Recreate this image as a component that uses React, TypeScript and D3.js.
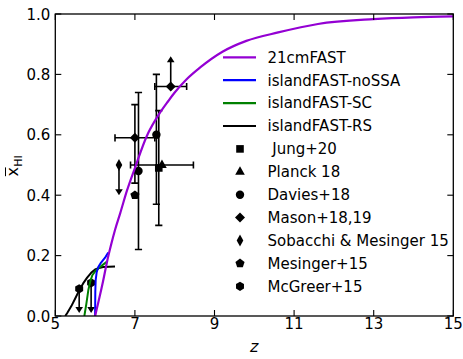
import React from 'react';
import * as d3 from 'd3';

const W = 463, H = 359;
const L = 55.3, R = 453.3, T = 14, B = 316;

const zTicks = [5, 7, 9, 11, 13, 15];
const xTicks = [0, 0.2, 0.4, 0.6, 0.8, 1.0];

// model curves
const fastZ = [6.0, 6.05, 6.1, 6.2, 6.3, 6.4, 6.5, 6.63, 6.8, 7.0, 7.3, 7.63, 7.84, 8.0, 8.3, 8.64, 9.2, 9.8, 10.6, 11.6, 13.0, 14.0, 15.0];
const fastX = [0.0, 0.028, 0.056, 0.115, 0.18, 0.235, 0.285, 0.34, 0.415, 0.49, 0.596, 0.673, 0.712, 0.74, 0.784, 0.823, 0.875, 0.911, 0.939, 0.967, 0.983, 0.989, 0.992];
const noSSAZ = [6.0, 6.005, 6.015, 6.04, 6.08, 6.15, 6.25, 6.33];
const noSSAX = [0.0, 0.08, 0.12, 0.145, 0.162, 0.177, 0.193, 0.21];
const scZ = [5.73, 5.78, 5.83, 5.88, 5.93, 6.0, 6.1, 6.2, 6.3];
const scX = [0.0, 0.04, 0.086, 0.115, 0.135, 0.148, 0.16, 0.17, 0.18];
const rsZ = [5.25, 5.3, 5.4, 5.5, 5.6, 5.7, 5.8, 5.9, 6.0, 6.1, 6.2, 6.35, 6.5];
const rsX = [0.0, 0.01, 0.032, 0.058, 0.085, 0.108, 0.127, 0.143, 0.154, 0.159, 0.162, 0.163, 0.164];

// observations
const jungZ = [7.6], jungX = [0.49], jungYerr = [0.19];
const planckZ = [7.68], planckX = [0.5], planckZerr = [0.79];
const daviesZ = [7.09, 7.54], daviesX = [0.48, 0.60], daviesLo = [0.26, 0.23], daviesHi = [0.26, 0.20];
const masonZ = [7.0, 7.9], masonX = [0.59, 0.76], masonZerr = [0.5, 0.4], masonLo = [0.15, 0], masonHi = [0.11, 0.1], masonLowerLimit = [false, true];
const sobacchiZ = [6.6], sobacchiX = [0.5], sobacchiArrow = [0.1];
const mesingerZ = [7.0], mesingerX = [0.4];
const mcgreerZ = [5.6, 5.9], mcgreerX = [0.09, 0.11], mcgreerArrow = [0.08, 0.1];

const legendLabels = ['21cmFAST', 'islandFAST-noSSA', 'islandFAST-SC', 'islandFAST-RS', ' Jung+20', 'Planck 18', 'Davies+18', 'Mason+18,19', 'Sobacchi & Mesinger 15', 'Mesinger+15', 'McGreer+15'];
const lineColors = ['#9400D3', '#0000FF', '#008000', '#000000'];
const markerTypes = ['square', 'triangle', 'circle', 'diamond', 'thin_diamond', 'pentagon', 'hexagon'];

const xs = d3.scaleLinear().domain([5, 15]).range([L, R]);
const ys = d3.scaleLinear().domain([0, 1]).range([B, T]);

function poly(pts: number[][]) {
  return 'M' + pts.map(p => p[0].toFixed(2) + ',' + p[1].toFixed(2)).join('L') + 'Z';
}
function regular(n: number, r: number) {
  const pts: number[][] = [];
  for (let i = 0; i < n; i++) {
    const a = -Math.PI / 2 + (i * 2 * Math.PI) / n;
    pts.push([r * Math.cos(a), r * Math.sin(a)]);
  }
  return poly(pts);
}
function markerPath(t: string) {
  switch (t) {
    case 'square': return 'M-3.8,-3.8H3.8V3.8H-3.8Z';
    case 'triangle': return poly([[0, -5.5], [4.8, 3], [-4.8, 3]]);
    case 'circle': return 'M4.2,0A4.2,4.2 0 1,1 -4.2,0A4.2,4.2 0 1,1 4.2,0Z';
    case 'diamond': return poly([[0, -5], [5, 0], [0, 5], [-5, 0]]);
    case 'thin_diamond': return poly([[0, -6], [3.3, 0], [0, 6], [-3.3, 0]]);
    case 'pentagon': return regular(5, 4.8);
    case 'hexagon': return regular(6, 4.6);
  }
  return '';
}

const Marker = ({ t, x, y }: { t: string; x: number; y: number }) => (
  <path d={markerPath(t)} transform={`translate(${x},${y})`} fill="#000" />
);

const EB = 1.6;
const CAP = 3.6;

function VErr({ z, lo, hi }: { z: number; lo: number; hi: number }) {
  const x = xs(z);
  return (
    <g stroke="#000" strokeWidth={EB}>
      <line x1={x} x2={x} y1={ys(lo)} y2={ys(hi)} />
      <line x1={x - CAP} x2={x + CAP} y1={ys(lo)} y2={ys(lo)} />
      <line x1={x - CAP} x2={x + CAP} y1={ys(hi)} y2={ys(hi)} />
    </g>
  );
}
function HErr({ x, lo, hi }: { x: number; lo: number; hi: number }) {
  const y = ys(x);
  return (
    <g stroke="#000" strokeWidth={EB}>
      <line x1={xs(lo)} x2={xs(hi)} y1={y} y2={y} />
      <line x1={xs(lo)} x2={xs(lo)} y1={y - CAP} y2={y + CAP} />
      <line x1={xs(hi)} x2={xs(hi)} y1={y - CAP} y2={y + CAP} />
    </g>
  );
}
function Arrow({ z, from, to }: { z: number; from: number; to: number }) {
  const x = xs(z);
  const y0 = ys(from), y1 = ys(to);
  const dir = y1 > y0 ? 1 : -1;
  return (
    <g>
      <line x1={x} x2={x} y1={y0} y2={y1 - dir * 4} stroke="#000" strokeWidth={EB} />
      <path d={poly([[x - 3.8, y1 - dir * 6], [x + 3.8, y1 - dir * 6], [x, y1]])} fill="#000" />
    </g>
  );
}

function curve(zs: number[], vals: number[]) {
  const line = d3.line<number>().x((_, i) => xs(zs[i])).y((v) => ys(v)).curve(d3.curveLinear);
  return line(vals) || '';
}
function smooth(zs: number[], vals: number[]) {
  const line = d3.line<number>().x((_, i) => xs(zs[i])).y((v) => ys(v)).curve(d3.curveMonotoneX);
  return line(vals) || '';
}

export default function App() {
  const font = 'DejaVu Sans, sans-serif';
  const legendY0 = 57.3, legendDy = 22.9;
  return (
    <div style={{ position: 'absolute', left: 0, top: 0 }}>
      <svg width={W} height={H} style={{ display: 'block', background: '#fff' }} fontFamily={font}>
        <defs>
          <clipPath id="plot"><rect x={L} y={T} width={R - L} height={B - T} /></clipPath>
        </defs>
        {/* observations */}
        <g clipPath="url(#plot)">
          {jungZ.map((z, i) => (
            <g key={'j' + i}>
              <VErr z={z} lo={jungX[i] - jungYerr[i]} hi={jungX[i] + jungYerr[i]} />
              <Marker t="square" x={xs(z)} y={ys(jungX[i])} />
            </g>
          ))}
          {planckZ.map((z, i) => (
            <g key={'p' + i}>
              <HErr x={planckX[i]} lo={z - planckZerr[i]} hi={z + planckZerr[i]} />
              <Marker t="triangle" x={xs(z)} y={ys(planckX[i])} />
            </g>
          ))}
          {daviesZ.map((z, i) => (
            <g key={'d' + i}>
              <VErr z={z} lo={daviesX[i] - daviesLo[i]} hi={daviesX[i] + daviesHi[i]} />
              <Marker t="circle" x={xs(z)} y={ys(daviesX[i])} />
            </g>
          ))}
          {masonZ.map((z, i) => (
            <g key={'m' + i}>
              <HErr x={masonX[i]} lo={z - masonZerr[i]} hi={z + masonZerr[i]} />
              {masonLowerLimit[i]
                ? <Arrow z={z} from={masonX[i]} to={masonX[i] + masonHi[i]} />
                : <VErr z={z} lo={masonX[i] - masonLo[i]} hi={masonX[i] + masonHi[i]} />}
              <Marker t="diamond" x={xs(z)} y={ys(masonX[i])} />
            </g>
          ))}
          {sobacchiZ.map((z, i) => (
            <g key={'s' + i}>
              <Arrow z={z} from={sobacchiX[i]} to={sobacchiX[i] - sobacchiArrow[i]} />
              <Marker t="thin_diamond" x={xs(z)} y={ys(sobacchiX[i])} />
            </g>
          ))}
          {mesingerZ.map((z, i) => (
            <Marker key={'me' + i} t="pentagon" x={xs(z)} y={ys(mesingerX[i])} />
          ))}
          {mcgreerZ.map((z, i) => (
            <g key={'mc' + i}>
              <Arrow z={z} from={mcgreerX[i]} to={mcgreerX[i] - mcgreerArrow[i]} />
              <Marker t="hexagon" x={xs(z)} y={ys(mcgreerX[i])} />
            </g>
          ))}
        </g>
        {/* model curves */}
        <g clipPath="url(#plot)" fill="none" strokeLinejoin="round">
          <path d={curve(rsZ, rsX)} stroke={lineColors[3]} strokeWidth={2} />
          <path d={curve(scZ, scX)} stroke={lineColors[2]} strokeWidth={2} />
          <path d={curve(noSSAZ, noSSAX)} stroke={lineColors[1]} strokeWidth={2} />
          <path d={smooth(fastZ, fastX)} stroke={lineColors[0]} strokeWidth={2.2} />
        </g>
        {/* frame */}
        <rect x={L} y={T} width={R - L} height={B - T} fill="none" stroke="#000" strokeWidth={1.3} />
        {/* ticks */}
        <g stroke="#000" strokeWidth={1.1}>
          {zTicks.map(t => (
            <g key={'zt' + t}>
              <line x1={xs(t)} x2={xs(t)} y1={B} y2={B - 6} />
              <line x1={xs(t)} x2={xs(t)} y1={T} y2={T + 6} />
            </g>
          ))}
          {xTicks.map(t => (
            <g key={'xt' + t}>
              <line x1={L} x2={L + 6} y1={ys(t)} y2={ys(t)} />
              <line x1={R} x2={R - 6} y1={ys(t)} y2={ys(t)} />
            </g>
          ))}
        </g>
        <g fontSize={15} fill="#000">
          {zTicks.map(t => (
            <text key={'zl' + t} x={xs(t)} y={B + 13} textAnchor="middle">{t}</text>
          ))}
          {xTicks.map(t => (
            <text key={'xl' + t} x={L - 5} y={ys(t) + 5.5} textAnchor="end">{t.toFixed(1)}</text>
          ))}
        </g>
        {/* axis labels */}
        <text x={(L + R) / 2} y={352} textAnchor="middle" fontSize={16} fontStyle="italic">z</text>
        <g transform={`translate(18,${(T + B) / 2 + 1}) rotate(-90)`}>
          <text x={-10.5} y={0} fontSize={16}>x</text>
          <line x1={-10.2} x2={-1.4} y1={-12.5} y2={-12.5} stroke="#000" strokeWidth={1} />
          <text x={-0.8} y={3.5} fontSize={11}>HI</text>
        </g>
        {/* legend */}
        <g fontSize={15}>
          {legendLabels.map((lab, i) => {
            const y = legendY0 + i * legendDy;
            return (
              <g key={'lg' + i}>
                {i < 4
                  ? <line x1={223} x2={256} y1={y} y2={y} stroke={lineColors[i]} strokeWidth={2.2} />
                  : <Marker t={markerTypes[i - 4]} x={240} y={y} />}
                <text x={267.5} y={y + 5.3} style={{ whiteSpace: 'pre' }}>{lab}</text>
              </g>
            );
          })}
        </g>
      </svg>
    </div>
  );
}
